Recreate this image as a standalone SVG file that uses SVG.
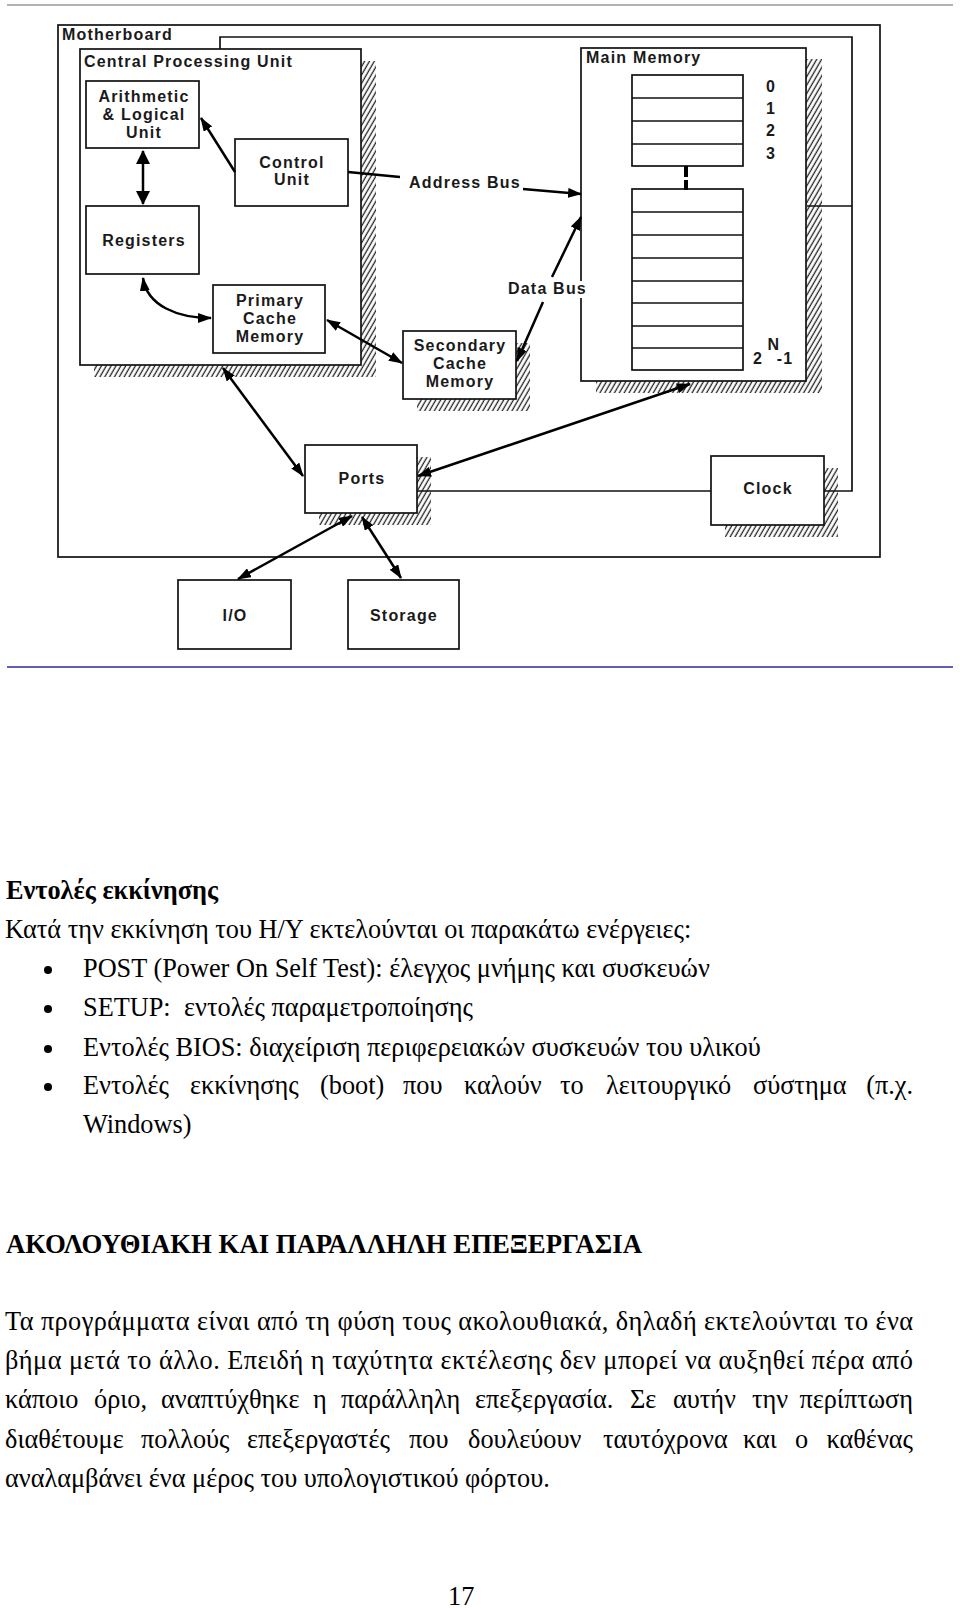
<svg xmlns="http://www.w3.org/2000/svg" width="960" height="1608" viewBox="0 0 960 1608">
<style>
.box{fill:#fff;stroke:#111;stroke-width:1.7}
.shadow{fill:url(#hatch);stroke:none}
.lbl{font-family:'Liberation Sans',Arial,sans-serif;font-weight:bold;font-size:16px;fill:#1a1a1a;letter-spacing:1.2px}
.c{text-anchor:middle}
.conn{fill:none;stroke:#000;stroke-width:2.5}
.bus{fill:none;stroke:#111;stroke-width:1.7}
.body{font-family:'Liberation Serif','Times New Roman',serif;font-size:26.3px;fill:#000}
.b{font-weight:bold}
.e{text-anchor:end}
</style>
<defs>
<pattern id="hatch" patternUnits="userSpaceOnUse" width="4.2" height="10" patternTransform="rotate(30)">
<line x1="2" y1="0" x2="2" y2="10" stroke="#222" stroke-width="1.3"/>
</pattern>
<marker id="ah" markerUnits="userSpaceOnUse" markerWidth="14" markerHeight="10" refX="13" refY="5" orient="auto-start-reverse">
<path d="M0,0 L14,5 L0,10 Z" fill="#000"/>
</marker>
<marker id="ahb" markerUnits="userSpaceOnUse" markerWidth="14" markerHeight="14" refX="13" refY="7" orient="auto-start-reverse">
<path d="M0,0 L14,7 L0,14 Z" fill="#000"/>
</marker>
</defs>
<rect width="960" height="1608" fill="#fff"/>
<line x1="7" y1="5" x2="953" y2="5" stroke="#999" stroke-width="1.5"/>
<line x1="7" y1="667" x2="953" y2="667" stroke="#2a2a9a" stroke-width="1.5"/>

<g id="motherboard">
<rect class="box" x="58" y="25" width="822" height="532" fill="none"/>
<text class="lbl" x="62" y="40">Motherboard</text>
</g>

<g id="cpu">
<rect class="shadow" x="94" y="61" width="282" height="316"/>
<rect class="box" x="80" y="49" width="281" height="316"/>
<text class="lbl" x="84" y="67">Central Processing Unit</text>
</g>

<g id="alu">
<rect class="box" x="86" y="81" width="113" height="67"/>
<text class="lbl c" x="144" y="102">Arithmetic</text>
<text class="lbl c" x="144" y="120">&amp; Logical</text>
<text class="lbl c" x="144" y="138">Unit</text>
</g>

<g id="control-unit">
<rect class="box" x="235" y="139" width="113" height="67"/>
<text class="lbl c" x="292" y="168">Control</text>
<text class="lbl c" x="292" y="185">Unit</text>
</g>

<g id="registers">
<rect class="box" x="86" y="206" width="113" height="68"/>
<text class="lbl c" x="144" y="246">Registers</text>
</g>

<g id="primary-cache">
<rect class="box" x="213" y="285" width="112" height="68"/>
<text class="lbl c" x="270" y="306">Primary</text>
<text class="lbl c" x="270" y="324">Cache</text>
<text class="lbl c" x="270" y="342">Memory</text>
</g>

<g id="secondary-cache">
<rect class="shadow" x="417" y="343" width="113" height="68"/>
<rect class="box" x="403" y="331" width="113" height="68"/>
<text class="lbl c" x="460" y="351">Secondary</text>
<text class="lbl c" x="460" y="369">Cache</text>
<text class="lbl c" x="460" y="387">Memory</text>
</g>

<g id="main-memory">
<rect class="shadow" x="596" y="59" width="226" height="334"/>
<rect class="box" x="581" y="48" width="225" height="333"/>
<text class="lbl" x="586" y="63">Main Memory</text>
<rect class="box" x="632" y="75" width="111" height="91"/>
<path class="bus" d="M632,98 H743 M632,121 H743 M632,144 H743"/>
<rect class="box" x="632" y="189" width="111" height="181"/>
<path class="bus" d="M632,212 H743 M632,235 H743 M632,258 H743 M632,281 H743 M632,303 H743 M632,326 H743 M632,348 H743"/>
<text class="lbl c" x="771" y="92">0</text>
<text class="lbl c" x="771" y="114">1</text>
<text class="lbl c" x="771" y="136">2</text>
<text class="lbl c" x="771" y="159">3</text>
<text class="lbl c" x="758" y="364">2</text>
<text class="lbl c" x="774" y="350">N</text>
<text class="lbl c" x="785" y="364">-1</text>
</g>

<g id="ports">
<rect class="shadow" x="319" y="457" width="112" height="68"/>
<rect class="box" x="305" y="445" width="112" height="68"/>
<text class="lbl c" x="362" y="484">Ports</text>
</g>

<g id="clock">
<rect class="shadow" x="725" y="468" width="113" height="69"/>
<rect class="box" x="711" y="456" width="113" height="69"/>
<text class="lbl c" x="768" y="494">Clock</text>
</g>

<g id="io">
<rect class="box" x="178" y="580" width="113" height="69"/>
<text class="lbl c" x="235" y="621">I/O</text>
</g>

<g id="storage">
<rect class="box" x="348" y="580" width="111" height="69"/>
<text class="lbl c" x="404" y="621">Storage</text>
</g>

<g id="connectors">
<path class="bus" d="M220,49 V37 H852 V491 H824 M807,206 H852 M417,491 H711"/>
<path d="M686,166 V190" stroke="#000" stroke-width="4" stroke-dasharray="11 3" fill="none"/>
<path class="conn" d="M235,172 L201,118" marker-end="url(#ah)"/>
<path class="conn" d="M143,151 L143,204" stroke-width="5" marker-start="url(#ahb)" marker-end="url(#ahb)"/>
<path class="conn" d="M143,278 C147,306 178,318 211,318" marker-start="url(#ah)" marker-end="url(#ah)"/>
<path class="conn" d="M327,320 L402,363" marker-start="url(#ah)" marker-end="url(#ah)"/>
<path class="conn" d="M223,368 L303,476" marker-start="url(#ah)" marker-end="url(#ah)"/>
<path class="conn" d="M418,476 L690,384" marker-start="url(#ah)" marker-end="url(#ah)"/>
<path class="conn" d="M352,516 L238,579" marker-start="url(#ah)" marker-end="url(#ah)"/>
<path class="conn" d="M362,517 L401,578" marker-start="url(#ah)" marker-end="url(#ah)"/>
<path class="conn" d="M348,172 L400,177"/>
<path class="conn" d="M523,189 L581,194" marker-end="url(#ah)"/>
<path class="conn" d="M552,277 L581,217" marker-end="url(#ah)"/>
<path class="conn" d="M543,302 L517,361" marker-end="url(#ah)"/>
<text class="lbl" x="409" y="188">Address Bus</text>
<rect x="506" y="281" width="84" height="17" fill="#fff"/>
<text class="lbl" x="508" y="294">Data Bus</text>
</g>

<g id="text-body" class="body">
<text class="body b" x="6" y="899">Εντολές εκκίνησης</text>
<text class="body" x="5" y="938">Κατά την εκκίνηση του Η/Υ εκτελούνται οι παρακάτω ενέργειες:</text>
<circle cx="48" cy="970" r="4"/>
<circle cx="48" cy="1009" r="4"/>
<circle cx="48" cy="1049" r="4"/>
<circle cx="48" cy="1087" r="4"/>
<text class="body" x="83" y="977">POST (Power On Self Test): έλεγχος μνήμης και συσκευών</text>
<text class="body" y="1016"><tspan x="83">SETUP:</tspan><tspan x="184">εντολές παραμετροποίησης</tspan></text>
<text class="body" x="83" y="1056">Εντολές BIOS: διαχείριση περιφερειακών συσκευών του υλικού</text>
<text class="body" y="1094"><tspan x="83">Εντολές</tspan><tspan x="190">εκκίνησης</tspan><tspan x="320">(boot)</tspan><tspan x="403">που</tspan><tspan x="464">καλούν</tspan><tspan x="560">το</tspan><tspan x="606">λειτουργικό</tspan><tspan x="753">σύστημα</tspan></text>
<text class="body e" x="913" y="1094">(π.χ.</text>
<text class="body" x="83" y="1133">Windows)</text>
<text class="body b" x="6" y="1253" textLength="636" lengthAdjust="spacingAndGlyphs">ΑΚΟΛΟΥΘΙΑΚΗ ΚΑΙ ΠΑΡΑΛΛΗΛΗ ΕΠΕΞΕΡΓΑΣΙΑ</text>
<text class="body" x="5" y="1330" textLength="908" lengthAdjust="spacing">Τα προγράμματα είναι από τη φύση τους ακολουθιακά, δηλαδή εκτελούνται το ένα</text>
<text class="body" x="5" y="1369" textLength="908" lengthAdjust="spacing">βήμα μετά το άλλο. Επειδή η ταχύτητα εκτέλεσης δεν μπορεί να αυξηθεί πέρα από</text>
<text class="body" y="1408"><tspan x="5">κάποιο</tspan><tspan x="94">όριο,</tspan><tspan x="161">αναπτύχθηκε</tspan><tspan x="313">η</tspan><tspan x="341">παράλληλη</tspan><tspan x="475">επεξεργασία.</tspan><tspan x="630">Σε</tspan><tspan x="673">αυτήν</tspan><tspan x="752">την</tspan></text>
<text class="body e" x="913" y="1408">περίπτωση</text>
<text class="body" y="1448"><tspan x="5">διαθέτουμε</tspan><tspan x="141">πολλούς</tspan><tspan x="247">επεξεργαστές</tspan><tspan x="409">που</tspan><tspan x="468">δουλεύουν</tspan><tspan x="603">ταυτόχρονα</tspan><tspan x="743">και</tspan><tspan x="795">ο</tspan></text>
<text class="body e" x="913" y="1448">καθένας</text>
<text class="body" x="5" y="1487">αναλαμβάνει ένα μέρος του υπολογιστικού φόρτου.</text>
<text class="body" x="448" y="1605">17</text>
</g>
</svg>
